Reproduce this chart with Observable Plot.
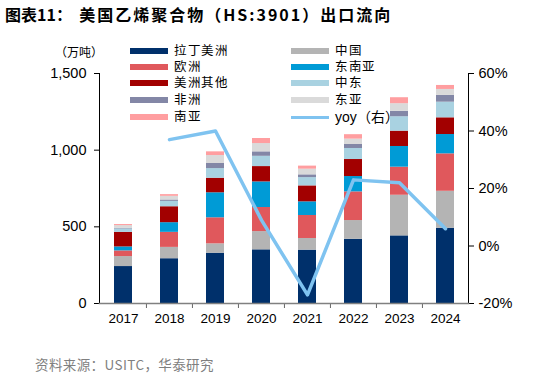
<!DOCTYPE html>
<html><head><meta charset="utf-8">
<script src="https://cdn.jsdelivr.net/npm/d3@7"></script>
<script src="https://cdn.jsdelivr.net/npm/@observablehq/plot@0.6"></script>
<style>
@font-face{font-family:"LegendCJK";src:local("Noto Sans CJK SC"),local("Noto Sans CJK SC Regular"),local("NotoSansCJKsc-Regular");ascent-override:90%;descent-override:14%;line-gap-override:0%;unicode-range:U+3000-9FFF,U+FF00-FFEF;}
body{margin:0;background:#fff;}
#wrap{position:relative;width:534px;height:377px;overflow:hidden;font-family:"Liberation Sans",Arial,sans-serif;}
#chart{position:absolute;left:0;top:0;}
.title{position:absolute;left:5px;top:4px;font-family:"Noto Sans CJK SC",sans-serif;font-weight:bold;font-size:16px;line-height:20px;color:#000;white-space:pre;}
.title .t2{letter-spacing:2px;}
.caption{position:absolute;left:35px;top:355px;font-family:"Noto Sans CJK SC",sans-serif;font-size:13.5px;line-height:18px;color:#7f7f7f;white-space:pre;letter-spacing:0.4px;}
.unit{position:absolute;left:55px;top:44px;font-family:"Noto Sans CJK SC",sans-serif;font-size:12px;line-height:15px;color:#000;}
.lg{position:absolute;font-family:"LegendCJK","Liberation Sans",Arial,sans-serif;font-size:12.5px;color:#000;line-height:14px;height:14px;white-space:nowrap;letter-spacing:0.5px;}
.lg.latin{font-size:14px;letter-spacing:0;}
.sw{position:absolute;}
</style></head><body>
<div id="wrap">
  <div id="chart"></div>
  <div class="title">图表11：  <span class="t2">美国乙烯聚合物（HS:3901）出口流向</span></div>
  <div class="unit">（万吨）</div>
  <div class="caption">资料来源：USITC，华泰研究</div>
</div>
<script>
const years = ["2017","2018","2019","2020","2021","2022","2023","2024"];
const regions = ["拉丁美洲","中国","欧洲","东南亚","美洲其他","中东","非洲","东亚","南亚"];
const colors = ["#00306B","#B4B4B4","#E0585C","#009BD6","#A20000","#A9D2E1","#8387A6","#DADADA","#FF9EA0"];
const latinAmerica = [241, 292, 328, 350, 348, 419, 441, 491];
const china        = [65, 74, 61, 119, 76, 122, 265, 241];
const europe       = [37, 98, 170, 157, 150, 187, 183, 244];
const southeastAsia= [26, 63, 163, 167, 89, 100, 135, 126];
const otherAmerica = [95, 104, 95, 100, 104, 111, 100, 109];
const middleEast   = [22, 35, 63, 67, 54, 72, 94, 102];
const africa       = [4, 9, 33, 29, 18, 26, 35, 44];
const eastAsia     = [18, 24, 52, 54, 37, 35, 50, 39];
const southAsia    = [7, 11, 24, 33, 20, 29, 39, 26];
const yoyYears = ["2018","2019","2020","2021","2022","2023","2024"];
const yoy = [37, 40, 9, -17, 23, 22, 6];
const leftTicks = [0, 500, 1000, 1500];
const rightTicks = [-20, 0, 20, 40, 60];
const yoyLabel = "yoy（右）";

const series = [latinAmerica, china, europe, southeastAsia, otherAmerica, middleEast, africa, eastAsia, southAsia];
const rows = [];
regions.forEach((r, i) => years.forEach((y, j) => rows.push({year: y, region: r, value: series[i][j]})));
const lineData = yoyYears.map((y, i) => ({year: y, yoy: yoy[i]}));

const yMax = 1500, rMin = -20, rMax = 60;
const toLeft = v => (v - rMin) / (rMax - rMin) * yMax;
const toRight = v => v / yMax * (rMax - rMin) + rMin;

const W = 534, H = 340, ml = 99, mr = 66, mt = 73, mb = 37;
const step = (W - ml - mr) / years.length;

const chart = Plot.plot({
  width: W, height: H,
  marginLeft: ml, marginRight: mr, marginTop: mt, marginBottom: mb,
  style: {fontSize: "13.5px", fontFamily: "'Liberation Sans', Arial, sans-serif", color: "#000", background: "transparent"},
  x: {domain: years, paddingInner: 0.61, paddingOuter: 0.305, axis: null},
  y: {domain: [0, yMax], axis: null},
  color: {domain: regions, range: colors},
  marks: [
    Plot.barY(rows, {x: "year", y: "value", fill: "region"}),
    Plot.line(lineData, {x: "year", y: d => toLeft(d.yoy), stroke: "#7FC3F0", strokeWidth: 3.5}),
    Plot.axisY({anchor: "left", ticks: leftTicks, tickFormat: d3.format(","), tickSize: 5, tickPadding: 8, label: null, stroke: "#000", fontSize: 14.5}),
    Plot.axisY({anchor: "right", ticks: rightTicks.map(toLeft), tickFormat: d => Math.round(toRight(d)) + "%", tickSize: 5, tickPadding: 5, label: null, stroke: "#000", fontSize: 14.5}),
    Plot.frame({anchor: "left", stroke: "#000"}),
    Plot.frame({anchor: "right", stroke: "#000"}),
    Plot.axisX({ticks: years, tickSize: 0, tickPadding: 10, label: null}),
    Plot.axisX({ticks: years.slice(1), tickSize: 5, tickFormat: () => "", dx: -step / 2, label: null, stroke: "#666"}),
    Plot.frame({anchor: "bottom", stroke: "#808080", strokeWidth: 1.5})
  ]
});
document.getElementById("chart").appendChild(chart);

// legend
const wrap = document.getElementById("wrap");
const rowsY = [51, 67, 83, 100, 117];
const items = regions.map((r, i) => ({label: r, color: colors[i], type: "bar"}));
items.push({label: yoyLabel, color: "#7FC3F0", type: "line"});
items.forEach((it, i) => {
  const col = i % 2, row = Math.floor(i / 2);
  const sx = col === 0 ? 130 : 291, tx = col === 0 ? 174 : 335;
  const cy = rowsY[row];
  const sw = document.createElement("div");
  sw.className = "sw";
  const h = it.type === "bar" ? 6 : 3;
  sw.style.cssText = `left:${sx}px;top:${cy - h/2}px;width:38px;height:${h}px;background:${it.color};`;
  wrap.appendChild(sw);
  const t = document.createElement("div");
  t.className = it.type === "line" ? "lg latin" : "lg";
  t.style.left = tx + "px";
  t.style.top = (cy - 7) + "px";
  t.textContent = it.label;
  wrap.appendChild(t);
});
</script>
</body></html>
